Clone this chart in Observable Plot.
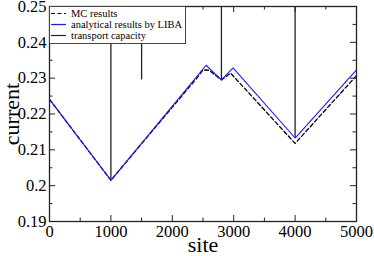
<!DOCTYPE html>
<html>
<head>
<meta charset="utf-8">
<script src="https://cdn.jsdelivr.net/npm/d3@7"></script>
<script src="https://cdn.jsdelivr.net/npm/@observablehq/plot@0.6"></script>
<style>
  html, body { margin: 0; padding: 0; background: #fff; }
  #wrap { position: relative; width: 374px; height: 256px; }
  #legend { position: absolute; left: 49px; top: 6px; }
  #wrap svg text { font-family: 'Liberation Serif', 'DejaVu Serif', serif; }
</style>
</head>
<body>
<div id="wrap"></div>
<script>
// LIBA analytical results
const libaSites = [0, 1000, 2550, 2800, 2990, 4000, 5000];
const libaCurrent = [0.2241, 0.2015, 0.2336, 0.2295, 0.2329, 0.2133, 0.2323];
// MC results
const mcSites = [0, 1000, 2000, 2400, 2500, 2600, 2800, 2950, 4000, 5000];
const mcCurrent = [0.2241, 0.2015, 0.2219, 0.2300, 0.2323, 0.2322, 0.2295, 0.2314, 0.2118, 0.2307];
// transport capacity (dips at defect sites, elsewhere above the chart)
const capSites = [1000, 1500, 2800, 4000];
const capMin = [0.2015, 0.2295, 0.2295, 0.2133];
const capTop = 0.25;
// ticks
const xMajor = [0, 1000, 2000, 3000, 4000, 5000];
const xMinor = [500, 1500, 2500, 3500, 4500];
const yMajor = [0.19, 0.20, 0.21, 0.22, 0.23, 0.24, 0.25];
const yMinor = [0.195, 0.205, 0.215, 0.225, 0.235, 0.245];
const legendLabels = ["MC results", "analytical results by LIBA", "transport capacity"];

const liba = libaSites.map((s, i) => ({site: s, current: libaCurrent[i]}));
const mc = mcSites.map((s, i) => ({site: s, current: mcCurrent[i]}));
const cap = capSites.map((s, i) => ({site: s, lo: capMin[i], hi: capTop}));

const font = "'Liberation Serif', 'DejaVu Serif', serif";
const yFmt = d => String(+d.toFixed(2));

const W = 374, H = 256, mL = 49, mR = 18, mT = 6, mB = 35;
const pw = W - mL - mR, ph = H - mT - mB;
const major = 6, minor = 3.5;
const tickStyle = {stroke: "#222", strokeWidth: 1};

const chart = Plot.plot({
  width: W,
  height: H,
  marginLeft: mL,
  marginRight: mR,
  marginTop: mT,
  marginBottom: mB,
  style: {fontFamily: font, fontSize: "16.5px", color: "#000", background: "#fff"},
  x: {domain: [0, 5000]},
  y: {domain: [0.19, 0.25]},
  marks: [
    Plot.ruleX(cap, {x: "site", y1: "lo", y2: "hi", stroke: "#222", strokeWidth: 1.3}),
    Plot.line(mc, {x: "site", y: "current", stroke: "#000", strokeWidth: 1.3, strokeDasharray: "4,2.5"}),
    Plot.line(liba, {x: "site", y: "current", stroke: "#1a1aff", strokeWidth: 1.1}),
    // labels
    Plot.axisX(xMajor, {anchor: "bottom", tickSize: 0, tickPadding: 4, tickFormat: d => String(d), label: "site", labelAnchor: "center", labelArrow: "none", labelOffset: 30, fontSize: 16.5}),
    Plot.axisY(yMajor, {anchor: "left", tickSize: 0, tickPadding: 3, tickFormat: yFmt, label: "current", labelAnchor: "center", labelArrow: "none", labelOffset: 46, fontSize: 16.5}),
    // inward ticks, all four sides
    Plot.tickX(xMajor, {x: d => d, insetTop: ph - major, ...tickStyle}),
    Plot.tickX(xMinor, {x: d => d, insetTop: ph - minor, ...tickStyle}),
    Plot.tickX(xMajor, {x: d => d, insetBottom: ph - major, ...tickStyle}),
    Plot.tickX(xMinor, {x: d => d, insetBottom: ph - minor, ...tickStyle}),
    Plot.tickY(yMajor, {y: d => d, insetRight: pw - major, ...tickStyle}),
    Plot.tickY(yMinor, {y: d => d, insetRight: pw - minor, ...tickStyle}),
    Plot.tickY(yMajor, {y: d => d, insetLeft: pw - major, ...tickStyle}),
    Plot.tickY(yMinor, {y: d => d, insetLeft: pw - minor, ...tickStyle}),
    Plot.frame({stroke: "#222", strokeWidth: 1.3})
  ]
});
document.getElementById("wrap").appendChild(chart);

// axis label font size
d3.select(chart).selectAll("[aria-label='x-axis label'] text, [aria-label='y-axis label'] text").attr("font-size", 22);
d3.select(chart).selectAll("[aria-label='x-axis label'], [aria-label='y-axis label']").attr("font-size", 22);

// legend overlay
const lg = d3.select("#wrap").append("svg").attr("id", "legend").attr("width", 137).attr("height", 39);
lg.append("rect").attr("x", 0.5).attr("y", 0.5).attr("width", 136).attr("height", 37).attr("fill", "#fff").attr("stroke", "#444");
const styles = [
  {stroke: "#000", dash: "4,2.5"},
  {stroke: "#1a1aff", dash: null},
  {stroke: "#222", dash: null}
];
legendLabels.forEach((t, i) => {
  const yy = 7.5 + i * 11;
  lg.append("line").attr("x1", 2).attr("x2", 17).attr("y1", yy).attr("y2", yy)
    .attr("stroke", styles[i].stroke).attr("stroke-width", 1.2).attr("stroke-dasharray", styles[i].dash);
  lg.append("text").attr("x", 22).attr("y", yy + 3.5).attr("font-family", font).attr("font-size", 10.5).text(t);
});
</script>
</body>
</html>
